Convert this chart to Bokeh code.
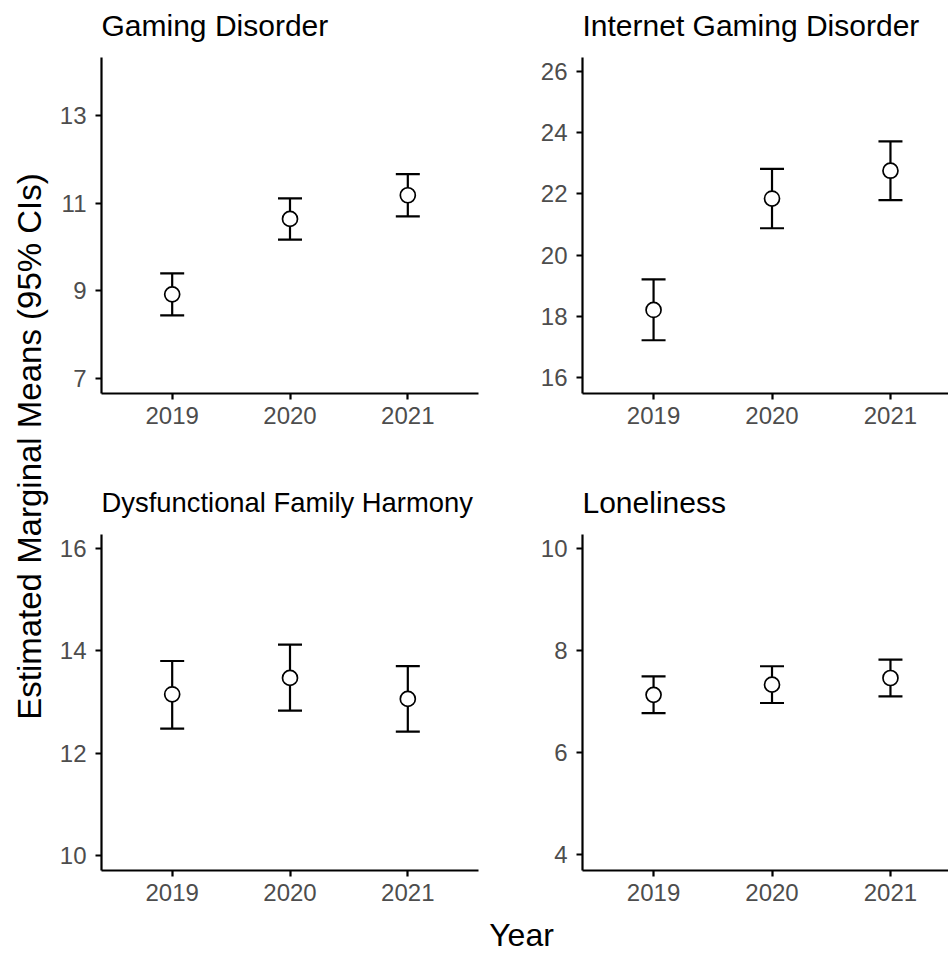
from bokeh.plotting import figure
from bokeh.layouts import row, column
from bokeh.models import Range1d, FixedTicker, ColumnDataSource, Whisker, TeeHead
from bokeh.core.properties import value
from bokeh.embed import file_html
from bokeh.resources import INLINE
import math

FONT = "Liberation Sans"

years = [2019, 2020, 2021]
year_labels = ["2019", "2020", "2021"]

titles = ["Gaming Disorder", "Internet Gaming Disorder",
          "Dysfunctional Family Harmony", "Loneliness"]

gd_mean = [8.92, 10.64, 11.18]
gd_lo = [8.44, 10.17, 10.70]
gd_hi = [9.40, 11.11, 11.66]

igd_mean = [18.21, 21.85, 22.76]
igd_lo = [17.22, 20.88, 21.80]
igd_hi = [19.21, 22.82, 23.72]

dfh_mean = [13.15, 13.47, 13.06]
dfh_lo = [12.48, 12.83, 12.42]
dfh_hi = [13.80, 14.12, 13.70]

lon_mean = [7.13, 7.33, 7.46]
lon_lo = [6.77, 6.97, 7.10]
lon_hi = [7.49, 7.69, 7.82]

gd_ticks = [7, 9, 11, 13]
igd_ticks = [16, 18, 20, 22, 24, 26]
dfh_ticks = [10, 12, 14, 16]
lon_ticks = [4, 6, 8, 10]

y_title = "Estimated Marginal Means (95% CIs)"
x_title = "Year"

LINE_W = 2.2


def panel(mean, lo, hi, ticks, yr, xr, width, height, mbl, mbr, mbt, mbb):
    p = figure(width=width, height=height, x_range=Range1d(*xr), y_range=Range1d(*yr),
               output_backend="svg", toolbar_location=None, title=None,
               min_border_left=mbl, min_border_right=mbr,
               min_border_top=mbt, min_border_bottom=mbb)
    p.xgrid.visible = False
    p.ygrid.visible = False
    p.outline_line_color = None
    p.xaxis.ticker = FixedTicker(ticks=years)
    p.xaxis.major_label_overrides = {y: l for y, l in zip(years, year_labels)}
    p.yaxis.ticker = FixedTicker(ticks=ticks)
    for ax in (p.xaxis, p.yaxis):
        ax.axis_line_color = "black"
        ax.axis_line_width = LINE_W
        ax.major_tick_line_color = "black"
        ax.major_tick_line_width = LINE_W
        ax.major_tick_out = 6
        ax.major_tick_in = 0
        ax.minor_tick_line_color = None
        ax.major_label_text_font = FONT
        ax.major_label_text_font_size = "24px"
        ax.major_label_text_color = "#4D4D4D"
    p.xaxis.major_label_standoff = 7
    p.yaxis.major_label_standoff = 9

    src = ColumnDataSource(dict(year=years, mean=mean, lo=lo, hi=hi))
    w = Whisker(base="year", lower="lo", upper="hi", source=src,
                line_color="black", line_width=LINE_W, level="underlay",
                upper_head=TeeHead(size=24, line_color="black", line_width=LINE_W),
                lower_head=TeeHead(size=24, line_color="black", line_width=LINE_W))
    p.add_layout(w)
    p.scatter(x="year", y="mean", source=src, size=15, marker="circle",
              fill_color="white", line_color="black", line_width=1.7)
    return p


def label_fig(w, h):
    f = figure(width=w, height=h, x_range=Range1d(0, w), y_range=Range1d(0, h),
               output_backend="svg", toolbar_location=None, title=None,
               x_axis_location=None, y_axis_location=None,
               min_border_left=0, min_border_right=0, min_border_top=0, min_border_bottom=0)
    f.outline_line_color = None
    f.grid.visible = False
    return f


def title_fig(text, w, h, x, y, size):
    f = label_fig(w, h)
    f.text(x=[x], y=[y], text=[text], text_align="left", text_baseline="middle",
           text_font=value(FONT), text_font_size=size, text_color="black")
    return f


YW = 56
LW, RW = 464, 428
T1H, P1H, T2H, P2H = 50, 400, 70, 390
L_MBL, R_MBL = 45, 62
left_xr = (2018.4, 2021.6)
right_xr = (2018.4, 2021.49)

t1 = title_fig(titles[0], LW, T1H, L_MBL, 25.4, "30px")
t2 = title_fig(titles[1], RW, T1H, R_MBL, 25.4, "30px")
t3 = title_fig(titles[2], LW, T2H, L_MBL, 18.5, "27.4px")
t4 = title_fig(titles[3], RW, T2H, R_MBL, 18.5, "30px")

p1 = panel(gd_mean, gd_lo, gd_hi, gd_ticks, (6.66, 14.32), left_xr,
           LW, P1H, L_MBL, 42, 7, 57)
p2 = panel(igd_mean, igd_lo, igd_hi, igd_ticks, (15.48, 26.46), right_xr,
           RW, P1H, R_MBL, 0, 7, 57)
p3 = panel(dfh_mean, dfh_lo, dfh_hi, dfh_ticks, (9.71, 16.27), left_xr,
           LW, P2H, L_MBL, 42, 14, 40)
p4 = panel(lon_mean, lon_lo, lon_hi, lon_ticks, (3.69, 10.27), right_xr,
           RW, P2H, R_MBL, 0, 14, 40)

TOTAL_H = T1H + P1H + T2H + P2H
ylab = label_fig(YW, TOTAL_H)
ylab.text(x=[28.5], y=[TOTAL_H - 446], text=[y_title], angle=math.pi / 2,
          text_align="center", text_baseline="middle",
          text_font=value(FONT), text_font_size="33px", text_color="black")

XW = YW + LW + RW
XH = 43
xlab = label_fig(XW, XH)
xlab.text(x=[521], y=[19], text=[x_title], text_align="center", text_baseline="middle",
          text_font=value(FONT), text_font_size="32px", text_color="black")

grid = column(row(t1, t2), row(p1, p2), row(t3, t4), row(p3, p4))
layout = column(row(ylab, grid), xlab)

open("out.html", "w").write(file_html(layout, INLINE))
